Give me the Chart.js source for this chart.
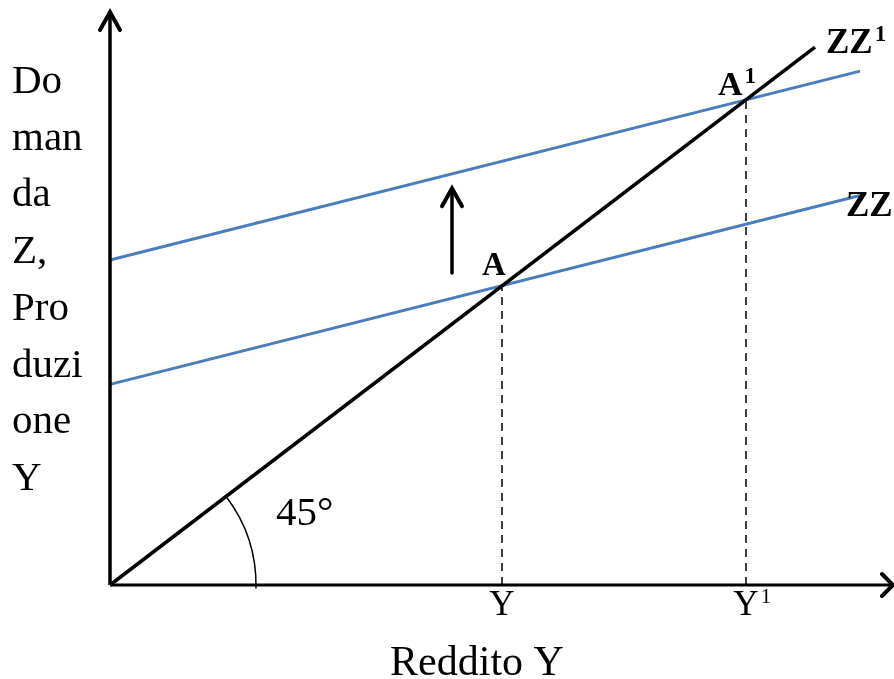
<!DOCTYPE html>
<html>
<head>
<meta charset="utf-8">
<script src="https://cdn.jsdelivr.net/npm/chart.js@4/dist/chart.umd.min.js"></script>
<style>
  html, body { margin: 0; padding: 0; background: #ffffff; }
  #wrap { width: 894px; height: 679px; }
</style>
</head>
<body>
<div id="wrap"><canvas id="c" width="894" height="679"></canvas></div>
<script>
// ---- data (model units) ----
const line45X = [0, 70.5];
const line45Y = [0, 70.5];
const zzX = [0, 75];
const zzY = [26.3, 51.05];
const zz1X = [0, 75];
const zz1Y = [42.6, 67.35];
const eqX = [39.2, 63.6];
const eqY = [39.2, 63.6];
const eqLabels = ['A', 'A'];
const eqSups = ['', '1'];
const tickLabels = ['Y', 'Y'];
const tickSups = ['', '1'];
const curveLabels = ['ZZ', 'ZZ'];
const curveSups = ['', '1'];
const axisXMax = 78.3;
const axisYMax = 75.1;
const shiftArrowX = 34.2;
const shiftArrowY = [40.9, 52.0];
const yTitleLines = ['Do', 'man', 'da', 'Z,', 'Pro', 'duzi', 'one', 'Y'];
const xTitle = 'Reddito Y';
const angleLabel = '45°';

const SERIF = "'Liberation Serif', 'Times New Roman', serif";
const BLUE = '#4a7ebb';

function pts(xs, ys) { return xs.map((x, i) => ({ x: x, y: ys[i] })); }

const dashed = eqX.map((x, i) => ({
  type: 'line', data: [{ x: x, y: 0 }, { x: x, y: eqY[i] }],
  borderColor: '#000', borderWidth: 1.5, borderDash: [8, 6],
  pointRadius: 0, fill: false, order: 5
}));

const annot = {
  id: 'annot',
  afterDatasetsDraw(chart) {
    const ctx = chart.ctx;
    const xs = chart.scales.x, ys = chart.scales.y;
    const px = v => xs.getPixelForValue(v);
    const py = v => ys.getPixelForValue(v);
    ctx.save();
    ctx.fillStyle = '#000';
    ctx.strokeStyle = '#000';

    function head(tx, ty, dir) {
      ctx.beginPath();
      ctx.lineWidth = 4;
      ctx.lineCap = 'round';
      ctx.lineJoin = 'miter';
      if (dir === 'up') {
        ctx.moveTo(tx - 10, ty + 18); ctx.lineTo(tx, ty); ctx.lineTo(tx + 10, ty + 18);
      } else {
        ctx.moveTo(tx - 11, ty - 11); ctx.lineTo(tx, ty); ctx.lineTo(tx - 11, ty + 11);
      }
      ctx.stroke();
    }
    // axis arrowheads
    head(px(0), py(axisYMax), 'up');
    head(px(axisXMax), py(0), 'right');

    // shift arrow
    const sx = px(shiftArrowX);
    ctx.beginPath();
    ctx.lineWidth = 3.5;
    ctx.moveTo(sx, py(shiftArrowY[0]));
    ctx.lineTo(sx, py(shiftArrowY[1]) + 2);
    ctx.stroke();
    head(sx, py(shiftArrowY[1]), 'up');

    // 45 degree arc
    const ang = Math.atan2(py(0) - py(line45Y[1]), px(line45X[1]) - px(0));
    ctx.beginPath();
    ctx.lineWidth = 1.5;
    ctx.arc(px(0), py(0), 146, -ang, 0.02);
    ctx.stroke();

    // texts
    ctx.textBaseline = 'alphabetic';
    ctx.font = '41px ' + SERIF;
    ctx.textAlign = 'left';
    yTitleLines.forEach((t, i) => ctx.fillText(t, 12, 93 + i * 56.7));
    ctx.font = '42px ' + SERIF;
    ctx.textAlign = 'center';
    ctx.fillText(xTitle, 477, 675);
    ctx.font = '41px ' + SERIF;
    ctx.textAlign = 'left';
    ctx.fillText(angleLabel, 276, 525);

    function supText(base, sup, x, y, baseFont, supFont, align, supRaise) {
      ctx.font = baseFont;
      const wb = ctx.measureText(base).width;
      ctx.font = supFont;
      const ws = sup ? ctx.measureText(sup).width + 2 : 0;
      let left = x;
      if (align === 'center') left = x - wb / 2;
      if (align === 'right') left = x - wb - ws;
      ctx.textAlign = 'left';
      ctx.font = baseFont;
      ctx.fillText(base, left, y);
      if (sup) { ctx.font = supFont; ctx.fillText(sup, left + wb + 2, y - supRaise); }
    }
    // tick labels
    eqX.forEach((x, i) => {
      supText(tickLabels[i], tickSups[i], px(x), py(0) + 30, '35px ' + SERIF, '21px ' + SERIF, 'center', 12);
    });
    // equilibrium labels
    supText(eqLabels[0], eqSups[0], px(eqX[0]) - 8, py(eqY[0]) - 11, 'bold 33px ' + SERIF, 'bold 20px ' + SERIF, 'center', 0);
    supText(eqLabels[1], eqSups[1], px(eqX[1]) + 10, py(eqY[1]) - 5, 'bold 34px ' + SERIF, 'bold 23px ' + SERIF, 'right', 12);
    // curve labels
    supText(curveLabels[0], curveSups[0], 846, py(zzY[1]) + 21, 'bold 35px ' + SERIF, 'bold 22px ' + SERIF, 'left', 0);
    supText(curveLabels[1], curveSups[1], 826, py(line45Y[1]) + 6, 'bold 35px ' + SERIF, 'bold 23px ' + SERIF, 'left', 12);
    ctx.restore();
  }
};

new Chart(document.getElementById('c'), {
  type: 'scatter',
  data: {
    datasets: [
      { type: 'line', data: [{ x: 0, y: 0 }, { x: axisXMax, y: 0 }], borderColor: '#000', borderWidth: 3, pointRadius: 0, order: 1, clip: false },
      { type: 'line', data: [{ x: 0, y: 0 }, { x: 0, y: axisYMax }], borderColor: '#000', borderWidth: 3.5, pointRadius: 0, order: 1, clip: false },
      { type: 'line', label: 'ZZ', data: pts(zzX, zzY), borderColor: BLUE, borderWidth: 3, pointRadius: 0, order: 3, clip: false },
      { type: 'line', label: 'ZZ1', data: pts(zz1X, zz1Y), borderColor: BLUE, borderWidth: 3, pointRadius: 0, order: 3, clip: false },
      { type: 'line', label: '45', data: pts(line45X, line45Y), borderColor: '#000', borderWidth: 3.5, pointRadius: 0, order: 2, clip: false },
      ...dashed
    ]
  },
  options: {
    responsive: false,
    animation: false,
    layout: { padding: { left: 110, right: 0, top: 12, bottom: 94 } },
    plugins: { legend: { display: false }, tooltip: { enabled: false } },
    scales: {
      x: { type: 'linear', display: false, min: 0, max: 78.4 },
      y: { type: 'linear', display: false, min: 0, max: 75.1 }
    },
    elements: { line: { tension: 0 } }
  },
  plugins: [annot]
});
</script>
</body>
</html>
